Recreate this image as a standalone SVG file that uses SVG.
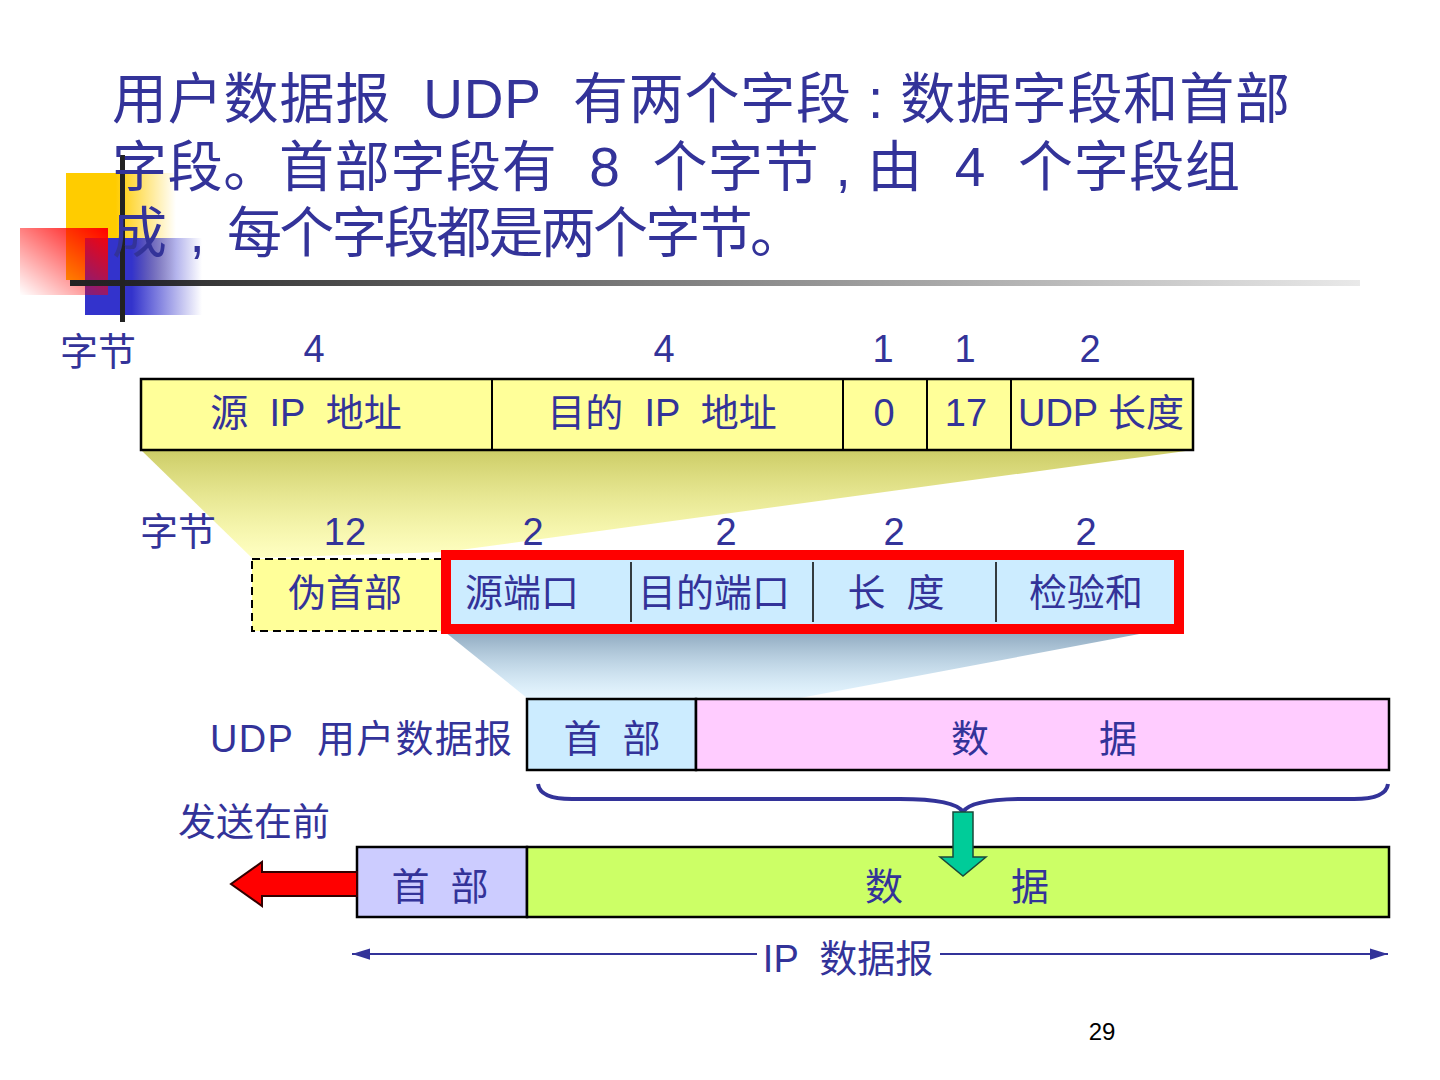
<svg xmlns="http://www.w3.org/2000/svg" width="1440" height="1080" viewBox="0 0 1440 1080">
<style>
text{font-family:"Liberation Sans","Noto Sans CJK SC",sans-serif;fill:#333399}
.t{font-size:55px}
.l{font-size:38px}
.m{text-anchor:middle}
.box{stroke:#000;stroke-width:2.5}
</style>
<defs>
<linearGradient id="gy" x1="0" y1="0" x2="1" y2="0"><stop offset="0.45" stop-color="#FFCC00"/><stop offset="1" stop-color="#FFCC00" stop-opacity="0"/></linearGradient>
<linearGradient id="gr" x1="1" y1="0" x2="0" y2="1"><stop offset="0" stop-color="#FF0000"/><stop offset="1" stop-color="#FF0000" stop-opacity="0"/></linearGradient>
<linearGradient id="gb" x1="0" y1="0" x2="1" y2="0"><stop offset="0.4" stop-color="#3333CC"/><stop offset="1" stop-color="#3333CC" stop-opacity="0"/></linearGradient>
<linearGradient id="gl" x1="0" y1="0" x2="1" y2="0"><stop offset="0" stop-color="#222"/><stop offset="1" stop-color="#222" stop-opacity="0.1"/></linearGradient>
<linearGradient id="gt1" x1="0" y1="0" x2="0" y2="1"><stop offset="0" stop-color="#CCCC66"/><stop offset="1" stop-color="#FFFF99" stop-opacity="0.6"/></linearGradient>
<linearGradient id="gt2" x1="0" y1="0" x2="0" y2="1"><stop offset="0" stop-color="#8FA9BF"/><stop offset="1" stop-color="#CCECFF" stop-opacity="0.5"/></linearGradient>
<marker id="ah" viewBox="0 0 16 10" refX="16" refY="5" markerWidth="18" markerHeight="12" orient="auto-start-reverse" markerUnits="userSpaceOnUse"><path d="M0,0 L16,5 L0,10 Z" fill="#333399"/></marker>
</defs>
<rect width="1440" height="1080" fill="#fff"/>
<g id="decor">
<rect x="66" y="173" width="110" height="107" fill="url(#gy)"/>
<rect x="85" y="238" width="117" height="77" fill="url(#gb)"/>
<rect x="20" y="228" width="88" height="67" fill="url(#gr)"/>
<rect x="120" y="155" width="5" height="167" fill="#222"/>
<rect x="70" y="280" width="1290" height="6" fill="url(#gl)"/>
</g>
<g id="title" class="t">
<text x="112" y="118" xml:space="preserve" textLength="1178" lengthAdjust="spacing">用户数据报  UDP  有两个字段 : 数据字段和首部</text>
<text x="112" y="186" xml:space="preserve" textLength="1128" lengthAdjust="spacing">字段。首部字段有  8  个字节 , 由  4  个字段组</text>
<text x="112" y="252" xml:space="preserve" textLength="693" lengthAdjust="spacing">成  ,  每个字段都是两个字节。</text>
</g>
<g id="trapezoids">
<polygon points="141,450 1193,450 445,552 252,558" fill="url(#gt1)"/>
<polygon points="445,632 1150,632 800,698 527,698" fill="url(#gt2)"/>
</g>
<g id="row1labels" class="l">
<text x="60" y="365">字节</text>
<text x="314" y="362" class="m">4</text>
<text x="664" y="362" class="m">4</text>
<text x="883" y="362" class="m">1</text>
<text x="965" y="362" class="m">1</text>
<text x="1090" y="362" class="m">2</text>
</g>
<g id="ip-pseudo">
<rect x="141" y="379" width="1052" height="71" fill="#FFFF99" class="box"/>
<path d="M492,379V450M843,379V450M927,379V450M1011,379V450" stroke="#000" stroke-width="2"/>
<g class="l">
<text x="306" y="426" class="m" xml:space="preserve">源  IP  地址</text>
<text x="662" y="426" class="m" xml:space="preserve">目的  IP  地址</text>
<text x="884" y="426" class="m">0</text>
<text x="966" y="426" class="m">17</text>
<text x="1101" y="426" class="m">UDP 长度</text>
</g>
</g>
<g id="row2labels" class="l">
<text x="140" y="545">字节</text>
<text x="345" y="545" class="m">12</text>
<text x="533" y="545" class="m">2</text>
<text x="726" y="545" class="m">2</text>
<text x="894" y="545" class="m">2</text>
<text x="1086" y="545" class="m">2</text>
</g>
<g id="pseudo-header">
<rect x="252" y="559" width="193" height="72" fill="#FFFF99" stroke="#000" stroke-width="2" stroke-dasharray="8,5"/>
<text x="345" y="606" class="l m">伪首部</text>
</g>
<g id="udp-header">
<rect x="446" y="555" width="733" height="74" fill="#CCECFF" stroke="#FF0000" stroke-width="10"/>
<path d="M631,562V622M813,562V622M996,562V622" stroke="#000" stroke-width="1.5"/>
<g class="l">
<text x="522" y="606" class="m">源端口</text>
<text x="714" y="606" class="m">目的端口</text>
<text x="896" y="606" class="m" xml:space="preserve">长  度</text>
<text x="1086" y="606" class="m">检验和</text>
</g>
</g>
<g id="udp-datagram">
<text x="210" y="752" class="l" xml:space="preserve" textLength="302" lengthAdjust="spacing">UDP  用户数据报</text>
<rect x="527" y="699" width="169" height="71" fill="#CCECFF" class="box"/>
<rect x="696" y="699" width="693" height="71" fill="#FFCCFF" class="box"/>
<text x="612" y="752" class="l m" xml:space="preserve">首  部</text>
<text x="970" y="752" class="l m">数</text>
<text x="1118" y="752" class="l m">据</text>
</g>
<g id="ip-datagram">
<text x="178" y="835" class="l">发送在前</text>
<rect x="357" y="847" width="170" height="70" fill="#CCCCFF" class="box"/>
<rect x="527" y="847" width="862" height="70" fill="#CCFF66" class="box"/>
<text x="440" y="900" class="l m" xml:space="preserve">首  部</text>
<text x="884" y="900" class="l m">数</text>
<text x="1030" y="900" class="l m">据</text>
</g>
<g id="connectors">
<path d="M538,784 Q540,799 572,799 L900,799 Q955,799 963,812 Q971,799 1026,799 L1354,799 Q1386,799 1388,784" fill="none" stroke="#333399" stroke-width="4"/>
<polygon points="953,812 973,812 973,857 986,857 963,876 940,857 953,857" fill="#00CC99" stroke="#1a4a3a" stroke-width="1.5"/>
<polygon points="357,872 262,872 262,862 231,884 262,906 262,896 357,896" fill="#FF0000" stroke="#330000" stroke-width="2"/>
<line x1="352" y1="954" x2="757" y2="954" stroke="#333399" stroke-width="2" marker-start="url(#ah)"/>
<line x1="940" y1="954" x2="1388" y2="954" stroke="#333399" stroke-width="2" marker-end="url(#ah)"/>
<text x="848" y="972" class="l m" xml:space="preserve">IP  数据报</text>
</g>
<text x="1102" y="1040" font-size="24" class="m" style="fill:#000">29</text>
</svg>
